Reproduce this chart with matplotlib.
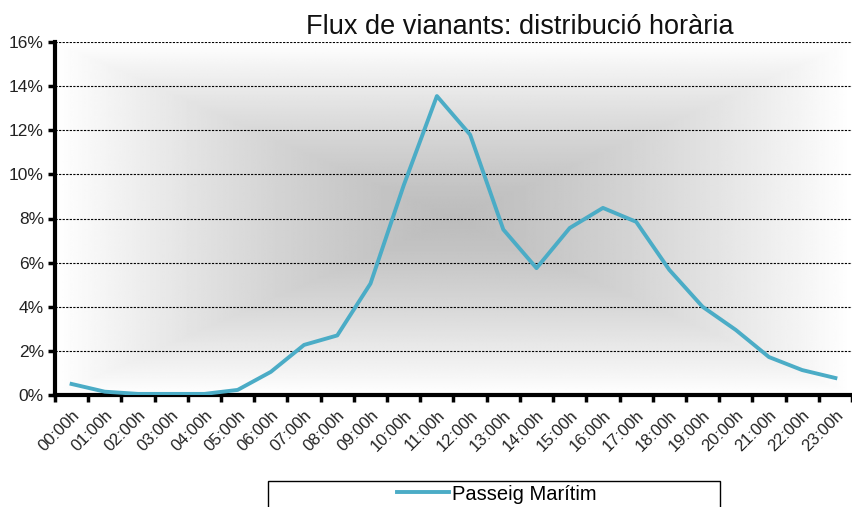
import numpy as np
import matplotlib.pyplot as plt
from matplotlib.patches import Rectangle

plt.rcParams['font.family'] = ['Liberation Sans', 'DejaVu Sans']

# hourly share of pedestrian flow (%)
hours = ['%02d:00h' % h for h in range(24)]
passeig_maritim = [0.50, 0.15, 0.05, 0.05, 0.05, 0.23, 1.05, 2.27, 2.70, 5.05,
                   9.50, 13.55, 11.80, 7.50, 5.75, 7.57, 8.48, 7.85, 5.67, 4.00,
                   2.95, 1.72, 1.13, 0.77]
y_ticks = [0, 2, 4, 6, 8, 10, 12, 14, 16]

fig = plt.figure(figsize=(8.52, 5.07), dpi=100)
ax = fig.add_axes([55/852, 112/507, 797/852, 353/507])

# background: rectangular gradient, grey in the middle, white at edges
n = 400
u = np.linspace(-1, 1, n)
U, V = np.meshgrid(u, u)
t = np.maximum(np.abs(U), np.abs(V))
shade = 0.74 + (1.0 - 0.74) * np.clip(t, 0, 1) ** 1.3
ax.imshow(shade, cmap='gray', vmin=0, vmax=1, extent=(0, 24, 0, 16),
          aspect='auto', zorder=0, interpolation='bilinear')

x = np.arange(len(hours)) + 0.5
ax.plot(x, passeig_maritim, color='#4bacc6', lw=2.8, zorder=3,
        solid_joinstyle='round', label='Passeig Marítim')

ax.set_xlim(0, 24)
ax.set_ylim(0, 16)
ax.set_yticks(y_ticks)
ax.set_yticklabels(['%d%%' % v for v in y_ticks], fontsize=12.5, color='#222222')
for v in y_ticks[1:]:
    ax.axhline(v, color='black', lw=0.8, ls=(0, (2, 1.2)), zorder=1)

ax.set_xticks(np.arange(0, 25))
ax.set_xticklabels([])
ax.set_xticks(x, minor=True)
ax.set_xticklabels(hours, minor=True, rotation=45, ha='right',
                   rotation_mode='anchor', fontsize=12, color='#222222')
ax.tick_params(axis='x', which='minor', length=0, pad=9)
ax.tick_params(axis='x', which='major', length=5, width=2.5, direction='out')
ax.tick_params(axis='y', length=5, width=2.5, direction='out', pad=3)

for s in ['top', 'right']:
    ax.spines[s].set_visible(False)
for s in ['left', 'bottom']:
    ax.spines[s].set_linewidth(3)

fig.text(520/852, 1 - 27/507, 'Flux de vianants: distribució horària',
         ha='center', va='center', fontsize=19.5, color='#111111')

# legend box
fig.patches.append(Rectangle((268/852, -0.05), 452/852, 0.05 + 26/507,
                             transform=fig.transFigure, fill=False,
                             edgecolor='black', lw=1))
fig.legend(loc='center', bbox_to_anchor=(497/852, 1 - 494/507), frameon=False,
           fontsize=14.5, handlelength=2.6, handletextpad=0.15, borderpad=0)

fig.savefig('out.png', dpi=100)
